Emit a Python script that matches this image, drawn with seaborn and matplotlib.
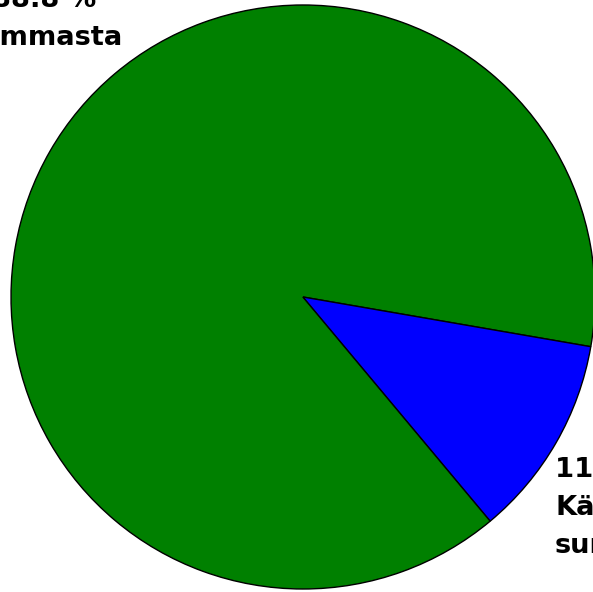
import matplotlib
matplotlib.use("Agg")
import matplotlib.pyplot as plt
import seaborn as sns

# shares of the pie (percent) and their labels
shares = [88.8, 11.2]
labels = ["88.8 %\nsummasta", "11.2 %\nKäytetty\nsummasta"]
colors = ["#008000", "#0000ff"]

sns.set_style("white")
plt.rcParams["font.family"] = ["DejaVu Sans"]

fig = plt.figure(figsize=(5.93, 5.92), dpi=100)
ax = fig.add_axes([0, 0, 1, 1])

wedges, _ = ax.pie(shares, colors=colors, startangle=-9.8, counterclock=True,
                   wedgeprops=dict(edgecolor="black", linewidth=1))

# pie centre sits a bit left of the figure centre, right edge is cut
ax.set_xlim(-1.0377, 0.993)
ax.set_ylim(-1.0103, 1.0171)
ax.set_aspect("auto")
ax.axis("off")

txt = dict(fontsize=19.7, fontweight="bold", color="black", linespacing=1.6)
ax.text(-0.887, 0.841, labels[0], ha="center", va="bottom", multialignment="center", **txt)
ax.text(0.863, -0.548, labels[1], ha="left", va="top", multialignment="left", **txt)

fig.savefig("out.png", dpi=100)
